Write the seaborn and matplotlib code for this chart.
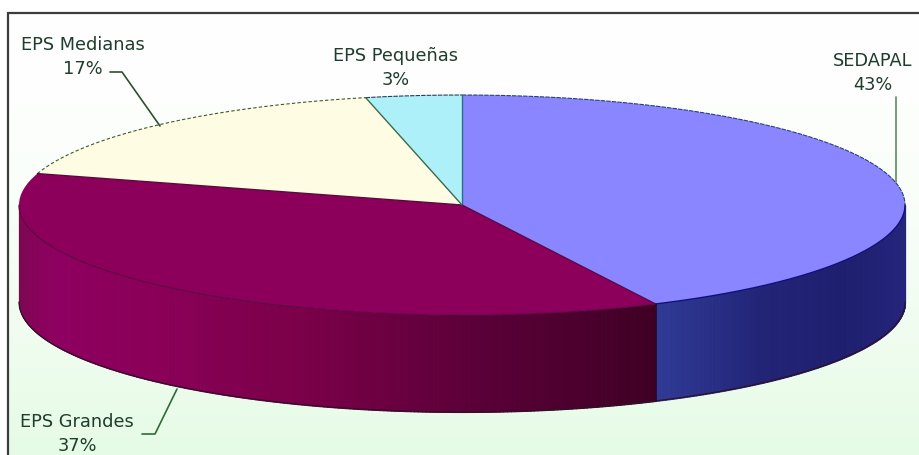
import numpy as np
import matplotlib
matplotlib.use("Agg")
import matplotlib.pyplot as plt
from matplotlib.patches import Rectangle
import seaborn as sns

# ---- data ----
categories = ["SEDAPAL", "EPS Grandes", "EPS Medianas", "EPS Pequeñas"]
shares = [42.8, 36.8, 16.9, 3.49]
top_colors = ["#8A86FF", "#8C005C", "#FFFCE4", "#AEF0FA"]
side_ramps = [["#2F3A95", "#222476", "#1F1F6F", "#232378", "#26267E"],   # seam -> right rim
              ["#7A0A50", "#8E0060", "#8A0058", "#7A0048", "#5A0038", "#3F0024"],  # left rim -> seam
              [], []]

W, H = 920, 455
CX, CY, RX, RY = 462, 205, 443, 110   # pixel layout of the top ellipse
DEPTH = 97 / RY

sns.set_theme(style="white", rc={"axes.grid": False})
plt.rcParams["font.family"] = ["DejaVu Sans"]

fig = plt.figure(figsize=(W / 100, H / 100), dpi=100, facecolor="white")
ax = fig.add_axes([0, 0, 1, 1])
ax.axis("off")


def fx(px):
    return px / W


def fy(py):
    return 1 - py / H


# panel background: white fading to pale green
grad = np.linspace(0, 1, 256) ** 1.6
white, green = np.array([1, 1, 1.0]), np.array([0.90, 0.985, 0.90])
img = (white[None, :] * (1 - grad[:, None]) + green[None, :] * grad[:, None])[:, None, :]
bg_ax = fig.add_axes([fx(8), 0, 1 - fx(8), fy(13)], zorder=-1)
bg_ax.imshow(img, aspect="auto")
bg_ax.axis("off")

# top of the pie, from the shares
wedges, _ = ax.pie(shares, startangle=90, counterclock=False, colors=top_colors,
                   radius=1, center=(0, 0), wedgeprops={"linewidth": 0})
ax.set_aspect("auto")
ax.set_xlim((0 - CX) / RX, (W - CX) / RX)
ax.set_ylim((CY - H) / RY, CY / RY)
for w in wedges:
    w.set_zorder(3)

# side wall, from the same shares
edges = np.concatenate([[0], np.cumsum(shares)]) / np.sum(shares) * 360
for i, ramp in enumerate(side_ramps):
    lo, hi = max(edges[i], 90), min(edges[i + 1], 270)
    if hi <= lo or not ramp:
        continue
    n = max(int((hi - lo) * 2), 8)
    t = np.radians(np.linspace(lo, hi, n + 1))
    pal = sns.blend_palette(ramp, n)
    # ramps run left to right on screen; angle runs right to left
    pal = pal[::-1]
    for k in range(n):
        seg = t[k:k + 2]
        ax.fill_between(np.sin(seg), np.cos(seg), np.cos(seg) - DEPTH,
                        color=pal[k], lw=0.8, antialiased=False, zorder=2)

# rim and seams
def arc(a, b):
    t = np.radians(np.linspace(a, b, 200))
    return np.sin(t), np.cos(t)


x, y = arc(edges[3], 360)
ax.plot(x, y, color="#2B3F55", lw=0.8, ls=(0, (4, 1)), zorder=4)
x, y = arc(0, 90)
ax.plot(x, y, color="#2B3F7A", lw=0.8, ls=(0, (4, 1)), zorder=4)
x, y = arc(edges[2], edges[3])
ax.plot(x, y, color="#3D5A30", lw=0.8, ls=(0, (3, 2)), zorder=4)
x, y = arc(90, edges[1])
ax.plot(x, y, color="#10107A", lw=1.0, zorder=4)
x, y = arc(edges[1], 270)
ax.plot(x, y, color="#5E0A45", lw=0.9, zorder=4)
x, y = arc(90, 270)
ax.plot(x, y - DEPTH, color="#30102A", lw=0.9, zorder=4)

seam_cols = ["#2A6F8A", "#5A0A4A", "#5A0A3A", "#3E6A4A"]
for i, a in enumerate(edges[:-1]):
    r = np.radians(a)
    ax.plot([0, np.sin(r)], [0, np.cos(r)], color=seam_cols[i], lw=1.0, zorder=4)
r = np.radians(edges[1])
ax.plot([np.sin(r)] * 2, [np.cos(r), np.cos(r) - DEPTH], color="#2A0A30", lw=1.2, zorder=4)

# frame
fig.add_artist(Rectangle((fx(8), fy(470)), fx(940), fy(13) - fy(470), transform=fig.transFigure,
                         fill=False, edgecolor="#3C3C3C", lw=1.6))

# labels and leader lines
txt = "#1F3D2C"
labels = {"SEDAPAL": (873, 73), "EPS Grandes": (77, 434), "EPS Medianas": (83, 57), "EPS Pequeñas": (396, 68)}
for name, share in zip(categories, shares):
    lx, ly = labels[name]
    fig.text(fx(lx), fy(ly), f"{name}\n{round(share):d}%", ha="center", va="center",
             fontsize=12.8, color=txt, linespacing=1.48, zorder=6)

leaders = [([110, 122, 160], [72, 72, 126], "#2F4F32"),
           ([142, 155, 177], [434, 434, 389], "#2F6B3A"),
           ([896, 896], [97, 182], "#5F8A62")]
for xs, ys, col in leaders:
    fig.add_artist(plt.Line2D([fx(v) for v in xs], [fy(v) for v in ys], color=col, lw=1.2,
                              transform=fig.transFigure, zorder=6))

fig.savefig("out.png", dpi=100)
